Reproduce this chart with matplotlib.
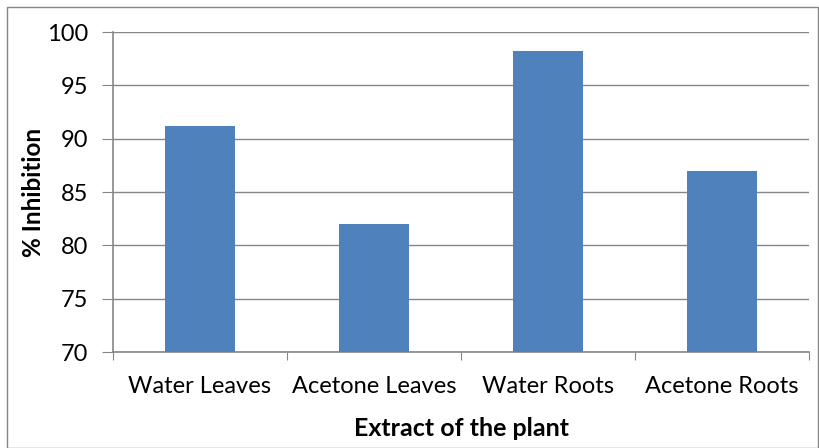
import matplotlib
matplotlib.use("Agg")
import matplotlib.pyplot as plt
from matplotlib.patches import Rectangle

categories = ["Water Leaves", "Acetone Leaves", "Water Roots", "Acetone Roots"]
values = [91.2, 82.0, 98.2, 87.0]
yticks = [70, 75, 80, 85, 90, 95, 100]

plt.rcParams['font.family'] = ['Lato', 'DejaVu Sans']

fig = plt.figure(figsize=(8.19, 4.48), dpi=100)
ax = fig.add_axes([113/819, 1-352/448, (809-113)/819, 320/448])

x = list(range(len(categories)))
ax.bar(x, [v - 70 for v in values], bottom=70, width=0.4, color='#4F81BD', zorder=3)
ax.set_xlim(-0.5, len(categories) - 0.5)
ax.set_ylim(70, 100)
ax.set_yticks(yticks)
ax.set_yticklabels([str(t) for t in yticks], fontsize=17)
ax.set_xticks([i - 0.5 for i in range(len(categories) + 1)], minor=False)
ax.set_xticklabels([])
ax.set_xticks(x, minor=True)
ax.set_xticklabels(categories, minor=True, fontsize=17)
ax.tick_params(axis='x', which='minor', length=0, pad=17)
ax.tick_params(axis='x', which='major', length=6, color='#868686', direction='out')
ax.tick_params(axis='y', length=8, color='#868686', direction='out', pad=10)
ax.grid(axis='y', color='#868686', linewidth=1, zorder=0)
for s in ['top', 'right']:
    ax.spines[s].set_visible(False)
for s in ['left', 'bottom']:
    ax.spines[s].set_color('#868686')
    ax.spines[s].set_linewidth(1.2)

ax.set_ylabel('% Inhibition', fontsize=17.5, fontweight='bold', labelpad=1)
ax.set_xlabel('Extract of the plant', fontsize=18, fontweight='bold', labelpad=15)

fig.patches.append(Rectangle((7/819, 0), 1 - 7/819 - 0.001, 1 - 7/448, transform=fig.transFigure,
                             fill=False, edgecolor='#868686', linewidth=1))

fig.savefig('out.png', dpi=100)
